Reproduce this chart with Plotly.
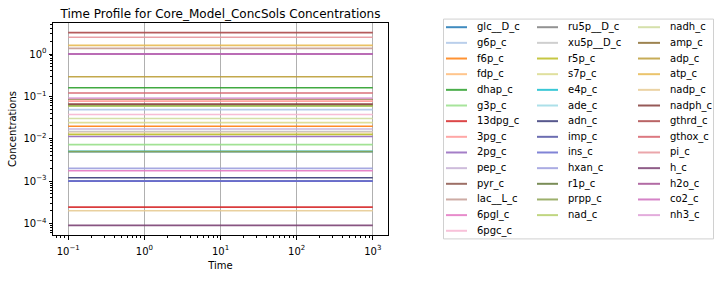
import plotly.graph_objects as go

# ---------------- data ----------------
time_points = [0.1, 1000.0]

metabolites = [
    "glc__D_c", "g6p_c", "f6p_c", "fdp_c", "dhap_c", "g3p_c", "13dpg_c",
    "3pg_c", "2pg_c", "pep_c", "pyr_c", "lac__L_c", "6pgl_c", "6pgc_c",
    "ru5p__D_c", "xu5p__D_c", "r5p_c", "s7p_c", "e4p_c", "ade_c", "adn_c",
    "imp_c", "ins_c", "hxan_c", "r1p_c", "prpp_c", "nad_c",
    "nadh_c", "amp_c", "adp_c", "atp_c", "nadp_c", "nadph_c", "gthrd_c",
    "gthox_c", "pi_c", "h_c", "h2o_c", "co2_c", "nh3_c",
]

concentrations = [
    1.0, 0.0486, 0.0198, 0.0146, 0.16, 0.00728, 0.000243,
    0.0773, 0.0113, 0.017, 0.0603, 1.36, 0.00175, 0.0375,
    0.00494, 0.0148, 0.0127, 0.024, 0.00504, 0.001, 0.0012,
    0.001, 0.001, 0.002, 0.06, 0.005, 0.0589,
    0.0301, 0.0867, 0.29, 1.6, 0.0002, 0.0658, 3.2,
    0.12, 2.5, 8.99757e-05, 1.0, 1.0, 0.091,
]

colors = [
    "#1f77b4", "#aec7e8", "#ff7f0e", "#ffbb78", "#2ca02c", "#98df8a", "#d62728",
    "#ff9896", "#9467bd", "#c5b0d5", "#8c564b", "#c49c94", "#e377c2", "#f7b6d2",
    "#7f7f7f", "#c7c7c7", "#bcbd22", "#dbdb8d", "#17becf", "#9edae5", "#393b79",
    "#5254a3", "#6b6ecf", "#9c9ede", "#637939", "#8ca252", "#b5cf6b",
    "#cedb9c", "#8c6d31", "#bd9e39", "#e7ba52", "#e7cb94", "#843c39", "#ad494a",
    "#d6616b", "#e7969c", "#7b4173", "#a55194", "#ce6dbd", "#de9ed6",
]

x_tick_vals = [0.1, 1, 10, 100, 1000]
x_tick_text = ["10<sup>−1</sup>", "10<sup>0</sup>", "10<sup>1</sup>", "10<sup>2</sup>", "10<sup>3</sup>"]
y_tick_vals = [1e-4, 1e-3, 1e-2, 1e-1, 1]
y_tick_text = ["10<sup>−4</sup>", "10<sup>−3</sup>", "10<sup>−2</sup>", "10<sup>−1</sup>", "10<sup>0</sup>"]

legend_split = [14, 13, 13]  # entries per legend column

# ---------------- layout constants ----------------
W, H = 720, 282
PL, PR, PT, PB = 53, 388, 23, 240
FONT = "DejaVu Sans"
ALPHA = 0.85


def rgba(hexc, a):
    h = hexc.lstrip("#")
    return "rgba(%d,%d,%d,%.2f)" % (int(h[0:2], 16), int(h[2:4], 16), int(h[4:6], 16), a)


def px_x(p):
    return (p - PL) / (PR - PL)


def px_y(p):
    return (PB - p) / (PB - PT)


fig = go.Figure()
for name, c, col in zip(metabolites, concentrations, colors):
    fig.add_trace(go.Scatter(
        x=time_points, y=[c] * len(time_points), mode="lines", name=name,
        line=dict(color=rgba(col, 0.9), width=1.6), showlegend=False,
    ))

# ---------------- manual 3-column legend ----------------
shapes = []
annotations = []
shapes.append(dict(type="rect", xref="paper", yref="paper",
                   x0=px_x(443.5), x1=px_x(713.5), y0=px_y(244), y1=px_y(19),
                   line=dict(color="#d0d0d0", width=1), fillcolor="white", layer="below"))
col_line_x = [(446, 467), (537, 558), (638, 660)]
col_text_x = [475, 566, 668]
row0, drow = 27.3, 16.03
idx = 0
for ci, n in enumerate(legend_split):
    for r in range(n):
        y = row0 + r * drow
        shapes.append(dict(type="line", xref="paper", yref="paper",
                           x0=px_x(col_line_x[ci][0]), x1=px_x(col_line_x[ci][1]),
                           y0=px_y(y), y1=px_y(y),
                           line=dict(color=rgba(colors[idx], ALPHA), width=2)))
        annotations.append(dict(xref="paper", yref="paper", x=px_x(col_text_x[ci]), y=px_y(y),
                                text=metabolites[idx], showarrow=False, xanchor="left",
                                yanchor="middle", font=dict(family=FONT, size=10, color="black")))
        idx += 1

fig.update_layout(
    width=W, height=H,
    margin=dict(l=PL, r=W - PR, t=PT, b=H - PB, pad=0),
    paper_bgcolor="white", plot_bgcolor="white",
    font=dict(family=FONT, size=10, color="black"),
    title=dict(text="Time Profile for Core_Model_ConcSols Concentrations",
               x=px_x((PL + PR) / 2), xref="paper", xanchor="center",
               y=1 - 14 / H, yanchor="middle", font=dict(size=12)),
    shapes=shapes, annotations=annotations, showlegend=False,
)
fig.update_xaxes(
    type="log", range=[-1.2, 3.2], tickmode="array", tickvals=x_tick_vals, ticktext=x_tick_text,
    showgrid=True, gridcolor="#b0b0b0", gridwidth=0.8, zeroline=False,
    showline=True, linecolor="black", linewidth=1, mirror=True,
    ticks="outside", ticklen=3.5, tickwidth=0.8, tickcolor="black", ticklabelstandoff=3,
    minor=dict(ticks="outside", ticklen=2, tickwidth=0.6, tickcolor="black", dtick="D1", showgrid=False),
    title=dict(text="Time", standoff=6, font=dict(size=10)),
)
fig.update_yaxes(
    type="log", range=[-4.273, 0.733], tickmode="array", tickvals=y_tick_vals, ticktext=y_tick_text,
    showgrid=False, zeroline=False,
    showline=True, linecolor="black", linewidth=1, mirror=True,
    ticks="outside", ticklen=3.5, tickwidth=0.8, tickcolor="black",
    minor=dict(ticks="outside", ticklen=2, tickwidth=0.6, tickcolor="black", dtick="D1", showgrid=False),
    title=dict(text="Concentrations", standoff=4, font=dict(size=10)),
)

fig.write_html("out.html")
